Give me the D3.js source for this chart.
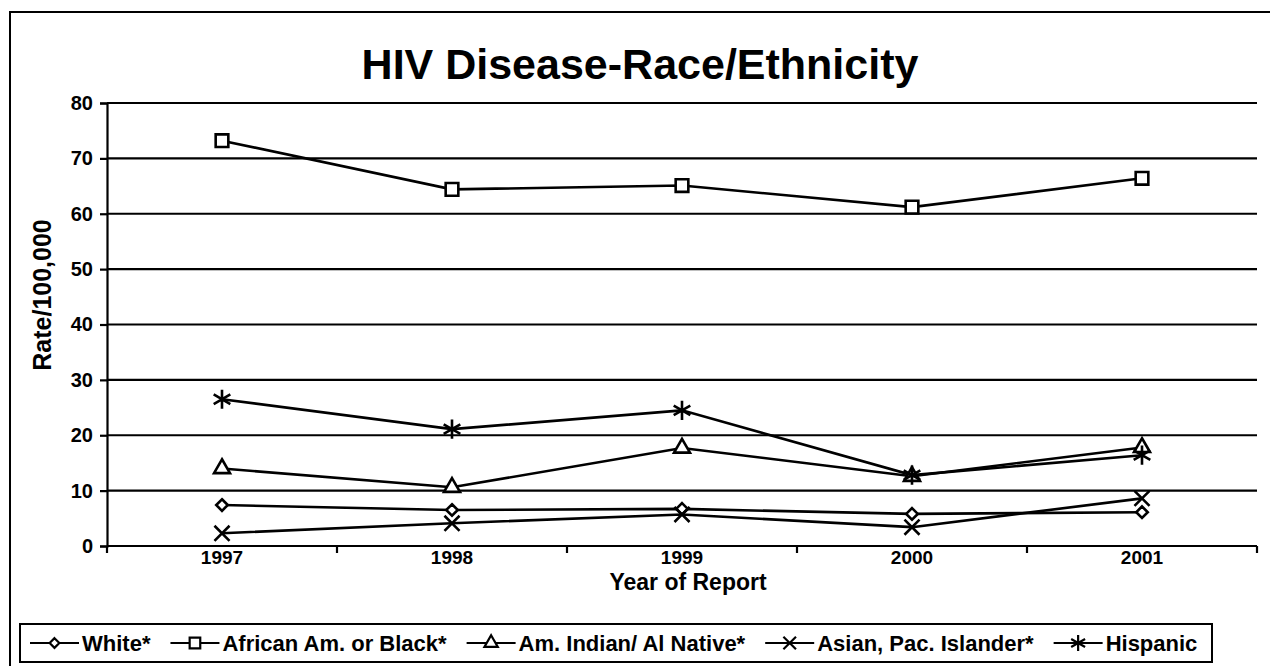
<!DOCTYPE html>
<html>
<head>
<meta charset="utf-8">
<script src="https://cdn.jsdelivr.net/npm/d3@7"></script>
<style>
  body { margin: 0; background: #fff; }
  text { font-family: "Liberation Sans", Arial, sans-serif; font-weight: bold; }
</style>
</head>
<body>
<div id="container"></div>
<script>
let w = 1270;
let h = 666;

// data
let years = ['1997', '1998', '1999', '2000', '2001'];
let white = [7.4, 6.5, 6.7, 5.8, 6.1];
let black = [73.2, 64.4, 65.1, 61.2, 66.4];
let amIndian = [14.0, 10.6, 17.7, 12.6, 17.8];
let asian = [2.3, 4.1, 5.7, 3.4, 8.6];
let hispanic = [26.5, 21.1, 24.5, 12.8, 16.4];
let seriesNames = ['White*', 'African Am. or Black*', 'Am. Indian/ Al Native*', 'Asian, Pac. Islander*', 'Hispanic'];
let yTicks = [0, 10, 20, 30, 40, 50, 60, 70, 80];

let series = [
  { name: seriesNames[0], values: white, sym: d3.symbolDiamond2, size: 85 },
  { name: seriesNames[1], values: black, sym: d3.symbolSquare, size: 160 },
  { name: seriesNames[2], values: amIndian, sym: d3.symbolTriangle, size: 110 },
  { name: seriesNames[3], values: asian, sym: d3.symbolX, size: 150 },
  { name: seriesNames[4], values: hispanic, sym: d3.symbolAsterisk, size: 260 }
];

let viz = d3.select('#container').append('svg')
  .attr('width', w)
  .attr('height', h);

// outer frame (runs off the right / bottom edge like the original)
viz.append('rect')
  .attr('x', 10).attr('y', 12)
  .attr('width', 1290).attr('height', 700)
  .attr('fill', 'none').attr('stroke', '#000').attr('stroke-width', 2);

let pLeft = 107, pRight = 1257, pTop = 103, pBottom = 546;

let x = d3.scaleBand().domain(years).range([pLeft, pRight]).padding(0);
let y = d3.scaleLinear().domain([0, 80]).range([pBottom, pTop]);

// gridlines
viz.append('g')
  .selectAll('line')
  .data(yTicks.filter(d => d > 0))
  .join('line')
  .attr('x1', pLeft).attr('x2', pRight)
  .attr('y1', d => y(d)).attr('y2', d => y(d))
  .attr('stroke', '#000').attr('stroke-width', 2.2);

// y axis
let yAxis = viz.append('g')
  .attr('transform', `translate(${pLeft},0)`)
  .call(d3.axisLeft(y).tickValues(yTicks).tickSize(7).tickPadding(7));
yAxis.select('.domain').attr('stroke-width', 2.2);
yAxis.selectAll('.tick line').attr('stroke-width', 2.2);
yAxis.selectAll('.tick text').attr('font-size', 20).attr('font-weight', 'bold')
  .attr('font-family', '"Liberation Sans", Arial, sans-serif').attr('fill', '#000');

// x axis: ticks sit between categories
let xAxis = viz.append('g')
  .attr('transform', `translate(0,${pBottom})`);
xAxis.append('line')
  .attr('x1', pLeft).attr('x2', pRight)
  .attr('stroke', '#000').attr('stroke-width', 2.2);
xAxis.selectAll('.tk')
  .data(years.concat(['end']))
  .join('line')
  .attr('x1', (d, i) => pLeft + i * x.bandwidth())
  .attr('x2', (d, i) => pLeft + i * x.bandwidth())
  .attr('y1', 0).attr('y2', 7)
  .attr('stroke', '#000').attr('stroke-width', 2.2);
xAxis.selectAll('text')
  .data(years)
  .join('text')
  .attr('x', d => x(d) + x.bandwidth() / 2)
  .attr('y', 18)
  .attr('text-anchor', 'middle')
  .attr('font-size', 19)
  .text(d => d);

// titles
viz.append('text')
  .text('HIV Disease-Race/Ethnicity')
  .attr('x', 640).attr('y', 79)
  .attr('text-anchor', 'middle')
  .attr('font-size', 43);

viz.append('text')
  .text('Year of Report')
  .attr('x', 688).attr('y', 590)
  .attr('text-anchor', 'middle')
  .attr('font-size', 23);

viz.append('text')
  .text('Rate/100,000')
  .attr('transform', 'translate(51,295) rotate(-90)')
  .attr('text-anchor', 'middle')
  .attr('font-size', 25);

// lines + markers
let line = d3.line()
  .x((d, i) => x(years[i]) + x.bandwidth() / 2)
  .y(d => y(d));

series.forEach(s => {
  viz.append('path')
    .attr('d', line(s.values))
    .attr('fill', 'none')
    .attr('stroke', '#000')
    .attr('stroke-width', 2.6);
  viz.append('g')
    .selectAll('path')
    .data(s.values)
    .join('path')
    .attr('d', d3.symbol().type(s.sym).size(s.size))
    .attr('transform', (d, i) => `translate(${x(years[i]) + x.bandwidth() / 2},${y(d)})`)
    .attr('fill', s.sym === d3.symbolX || s.sym === d3.symbolAsterisk ? 'none' : '#fff')
    .attr('stroke', '#000')
    .attr('stroke-width', 2.6);
});

// legend
viz.append('rect')
  .attr('x', 20).attr('y', 624)
  .attr('width', 1192).attr('height', 38)
  .attr('fill', '#fff').attr('stroke', '#000').attr('stroke-width', 2);

let lx = 30;
series.forEach(s => {
  let g = viz.append('g').attr('transform', `translate(${lx},643)`);
  g.append('line').attr('x1', 0).attr('x2', 49)
    .attr('stroke', '#000').attr('stroke-width', 2.2);
  g.append('path')
    .attr('d', d3.symbol().type(s.sym).size(s.size * 0.7))
    .attr('transform', 'translate(24.5,0)')
    .attr('fill', s.sym === d3.symbolX || s.sym === d3.symbolAsterisk ? 'none' : '#fff')
    .attr('stroke', '#000').attr('stroke-width', 2.2);
  let t = g.append('text')
    .text(s.name)
    .attr('x', 52).attr('y', 8)
    .attr('font-size', 22);
  lx += 52 + t.node().getComputedTextLength() + 20;
});
</script>
</body>
</html>
